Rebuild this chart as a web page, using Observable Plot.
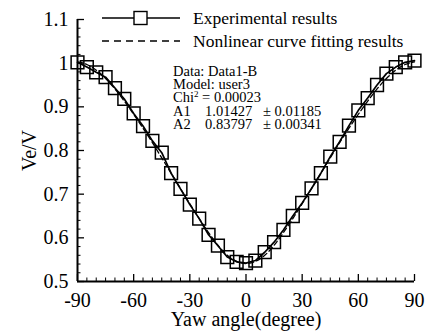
<!DOCTYPE html>
<html>
<head>
<meta charset="utf-8">
<script src="https://cdn.jsdelivr.net/npm/d3@7"></script>
<script src="https://cdn.jsdelivr.net/npm/@observablehq/plot@0.6"></script>
<style>
  html, body { margin: 0; padding: 0; background: #fff; }
  svg { display: block; }
  svg, svg text { font-family: "Liberation Serif", "DejaVu Serif", serif !important; }
</style>
</head>
<body>
<div id="chart"></div>
<script>
// ---- data ----
const yawAngles = [-90,-85,-80,-75,-70,-65,-60,-55,-50,-45,-40,-35,-30,-25,-20,-15,-10,-5,0,5,10,15,20,25,30,35,40,45,50,55,60,65,70,75,80,85,90];
const experimental = [1.002,0.991,0.979,0.968,0.943,0.918,0.885,0.856,0.822,0.795,0.748,0.712,0.676,0.644,0.607,0.582,0.556,0.545,0.542,0.548,0.567,0.590,0.618,0.650,0.680,0.713,0.748,0.786,0.820,0.857,0.892,0.920,0.950,0.976,0.991,1.002,1.006];
const fitted = [1.003,0.997,0.984,0.965,0.941,0.913,0.883,0.851,0.818,0.783,0.748,0.713,0.678,0.644,0.612,0.583,0.560,0.546,0.541,0.546,0.560,0.583,0.612,0.644,0.678,0.713,0.748,0.783,0.818,0.851,0.883,0.913,0.941,0.965,0.984,0.997,1.003];

const xTicks = [-90,-60,-30,0,30,60,90];
const xTickLabels = ["-90","-60","-30","0","30","60","90"];
const xMinorTicks = [-85,-80,-75,-70,-65,-55,-50,-45,-40,-35,-25,-20,-15,-10,-5,5,10,15,20,25,35,40,45,50,55,65,70,75,80,85];
const yTicks = [0.5,0.6,0.7,0.8,0.9,1.0,1.1];
const yTickLabels = ["0.5","0.6","0.7","0.8","0.9","1","1.1"];
const yMinorTicks = [0.52,0.54,0.56,0.58,0.62,0.64,0.66,0.68,0.72,0.74,0.76,0.78,0.82,0.84,0.86,0.88,0.92,0.94,0.96,0.98,1.02,1.04,1.06,1.08];

const xLabel = "Yaw angle(degree)";
const yLabel = "Ve/V";
const legendLabels = ["Experimental results", "Nonlinear curve fitting results"];
const annotation = [
  ["Data: Data1-B"],
  ["Model: user3"],
  ["Chi", "2", " = 0.00023"],
  ["A1", "1.01427", "\u00b1 0.01185"],
  ["A2", "0.83797", "\u00b1 0.00341"]
];

const expData = yawAngles.map((x, i) => ({x, y: experimental[i]}));
const fitData = yawAngles.map((x, i) => ({x, y: fitted[i]}));

const W = 429, H = 332;
const mL = 77, mR = 15, mT = 19, mB = 51;
const iW = W - mL - mR, iH = H - mT - mB;
const FONT = "Liberation Serif, DejaVu Serif, serif";

const plot = Plot.plot({
  width: W, height: H,
  marginLeft: mL, marginRight: mR, marginTop: mT, marginBottom: mB,
  style: {fontFamily: FONT, background: "#fff", color: "#000"},
  x: {domain: [-90, 90]},
  y: {domain: [0.5, 1.1]},
  marks: [
    // inward ticks
    Plot.tickX(xTicks, {x: d => d, insetTop: iH - 7, stroke: "#000", strokeWidth: 1.3}),
    Plot.tickX(xMinorTicks, {x: d => d, insetTop: iH - 3.5, stroke: "#000", strokeWidth: 1}),
    Plot.tickY(yTicks, {y: d => d, insetRight: iW - 7, stroke: "#000", strokeWidth: 1.3}),
    Plot.tickY(yMinorTicks, {y: d => d, insetRight: iW - 3.5, stroke: "#000", strokeWidth: 1}),
    // tick labels
    Plot.axisX({ticks: xTicks, tickFormat: (d) => xTickLabels[xTicks.indexOf(d)], tickSize: 0, tickPadding: 11, fontSize: 20, label: null}),
    Plot.axisY({ticks: yTicks, tickFormat: (d) => yTickLabels[yTicks.findIndex(t => Math.abs(t - d) < 1e-9)], tickSize: 0, tickPadding: 9, fontSize: 20, label: null}),
    // axis titles
    Plot.text([xLabel], {frameAnchor: "bottom", dy: 38, fontSize: 20, lineAnchor: "middle"}),
    Plot.text([yLabel], {frameAnchor: "left", dx: -48, rotate: -90, fontSize: 20, lineAnchor: "middle", textAnchor: "middle"}),
    // data
    Plot.line(fitData, {x: "x", y: "y", stroke: "#000", strokeWidth: 1.3, strokeDasharray: "5,3", curve: "natural"}),
    Plot.line(expData, {x: "x", y: "y", stroke: "#000", strokeWidth: 1.7}),
    Plot.dot(expData, {x: "x", y: "y", symbol: "square", r: 7.2, stroke: "#000", strokeWidth: 1.5, fill: "none"}),
    // axis lines
    Plot.ruleX([-90], {stroke: "#000", strokeWidth: 2}),
    Plot.ruleY([0.5], {stroke: "#000", strokeWidth: 2})
  ]
});

const svg = d3.select(plot);
// legend
const lg = svg.append("g").attr("font-family", FONT).attr("fill", "#000").attr("text-anchor", "start");
lg.append("line").attr("x1", 102).attr("x2", 180).attr("y1", 18).attr("y2", 18).attr("stroke", "#000").attr("stroke-width", 1.6);
lg.append("rect").attr("x", 134).attr("y", 11.5).attr("width", 13).attr("height", 13).attr("fill", "#fff").attr("stroke", "#000").attr("stroke-width", 1.4);
lg.append("text").attr("x", 193).attr("y", 24).attr("font-size", 17.5).text(legendLabels[0]);
lg.append("line").attr("x1", 102).attr("x2", 180).attr("y1", 41).attr("y2", 41).attr("stroke", "#000").attr("stroke-width", 1.4).attr("stroke-dasharray", "7,5");
lg.append("text").attr("x", 193).attr("y", 47).attr("font-size", 17.5).text(legendLabels[1]);

// annotation
const an = svg.append("g").attr("font-family", FONT).attr("font-size", 14.5).attr("fill", "#000").attr("text-anchor", "start");
const baseY = 76, step = 13.2;
annotation.forEach((row, i) => {
  const y = baseY + i * step;
  if (i === 2) {
    const t = an.append("text").attr("x", 173).attr("y", y);
    t.append("tspan").text(row[0]);
    t.append("tspan").attr("font-size", 9).attr("dy", -5).text(row[1]);
    t.append("tspan").attr("dy", 5).text(row[2]);
  } else if (row.length === 1) {
    an.append("text").attr("x", 173).attr("y", y).text(row[0]);
  } else {
    an.append("text").attr("x", 173).attr("y", y).text(row[0]);
    an.append("text").attr("x", 205).attr("y", y).text(row[1]);
    an.append("text").attr("x", 263).attr("y", y).text(row[2]);
  }
});

document.getElementById("chart").appendChild(plot);
</script>
</body>
</html>
